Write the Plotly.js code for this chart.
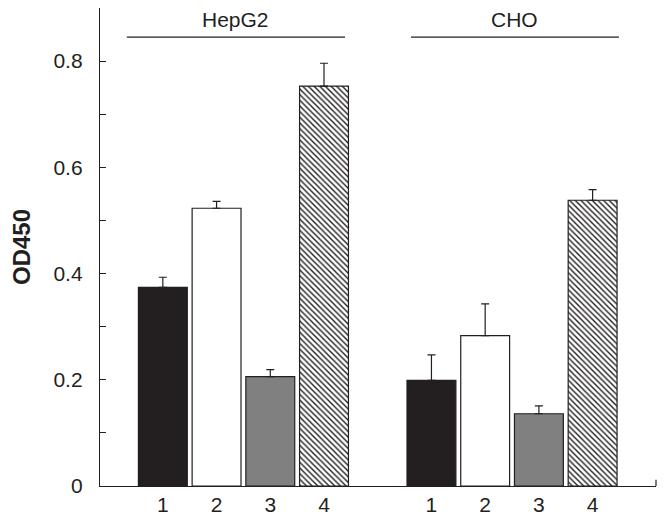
<!DOCTYPE html>
<html>
<head>
<meta charset="utf-8">
<script src="https://cdn.plot.ly/plotly-3.0.1.min.js"></script>
<style>html,body{margin:0;padding:0;background:#fff;}#chart{width:665px;height:522px;}</style>
</head>
<body>
<div id="chart"></div>
<script>
// Data
const groups = ['HepG2', 'CHO'];
const treatments = ['1', '2', '3', '4'];
const groupPositions = [[1, 2, 3, 4], [6, 7, 8, 9]];
const hepg2Values = [0.374, 0.523, 0.206, 0.753];
const hepg2Errors = [0.019, 0.013, 0.013, 0.043];
const choValues = [0.199, 0.283, 0.136, 0.538];
const choErrors = [0.048, 0.060, 0.015, 0.020];
const yTickVals = [0, 0.1, 0.2, 0.3, 0.4, 0.5, 0.6, 0.7, 0.8, 0.9];
const yTickText = ['0', '', '0.2', '', '0.4', '', '0.6', '', '0.8', ''];

const ink = '#231f20';
const fills = [
  {color: ink},
  {color: '#ffffff'},
  {color: '#7f807f'},
  {color: '#ffffff', pattern: {shape: '\\', size: 4, solidity: 0.35, fgcolor: ink, bgcolor: '#ffffff'}}
];

const traces = treatments.map((t, i) => ({
  type: 'bar',
  x: [groupPositions[0][i], groupPositions[1][i]],
  y: [hepg2Values[i], choValues[i]],
  width: 0.91,
  marker: Object.assign({line: {color: ink, width: 1.2}}, fills[i]),
  error_y: {type: 'data', symmetric: false, array: [hepg2Errors[i], choErrors[i]], arrayminus: [0, 0],
            color: ink, thickness: 1.2, width: 4},
  showlegend: false,
  hoverinfo: 'skip'
}));

const tickVals = groupPositions[0].concat(groupPositions[1]);
const tickText = treatments.concat(treatments);

const font = {family: 'Liberation Sans, Arial, sans-serif', color: ink};

const layout = {
  width: 665, height: 522,
  margin: {l: 100, r: 9, t: 8, b: 36},
  paper_bgcolor: '#fff', plot_bgcolor: '#fff',
  font: Object.assign({size: 21}, font),
  bargap: 0,
  xaxis: {
    range: [-0.17, 10.18], tickvals: tickVals, ticktext: tickText, ticks: '',
    showgrid: false, zeroline: false, showline: true, linecolor: ink, linewidth: 1.2,
    tickfont: {size: 21}, ticklabelstandoff: 0, fixedrange: true
  },
  yaxis: {
    range: [0, 0.9], tickvals: yTickVals, ticktext: yTickText,
    ticks: 'inside', ticklen: 6, tickwidth: 1.2, tickcolor: ink,
    showgrid: false, zeroline: false, showline: true, linecolor: ink, linewidth: 1.2,
    tickfont: {size: 21}, ticklabelstandoff: 12,
    title: {text: '<b>OD450</b>', font: {size: 24}, standoff: 16}, fixedrange: true
  },
  shapes: [
    {type: 'line', xref: 'x', yref: 'y', x0: 0.33, x1: 4.39, y0: 0.845, y1: 0.845, line: {color: ink, width: 1.2}},
    {type: 'line', xref: 'x', yref: 'y', x0: 5.62, x1: 9.49, y0: 0.845, y1: 0.845, line: {color: ink, width: 1.2}},
    {type: 'line', xref: 'paper', yref: 'paper', x0: 1, x1: 1, y0: 0, y1: 0.013, line: {color: ink, width: 1.2}}
  ],
  annotations: [
    {xref: 'x', yref: 'y', x: 2.36, y: 0.879, text: groups[0], showarrow: false, font: {size: 21}},
    {xref: 'x', yref: 'y', x: 7.55, y: 0.879, text: groups[1], showarrow: false, font: {size: 21}}
  ]
};

Plotly.newPlot('chart', traces, layout, {displayModeBar: false, staticPlot: true});
</script>
</body>
</html>
